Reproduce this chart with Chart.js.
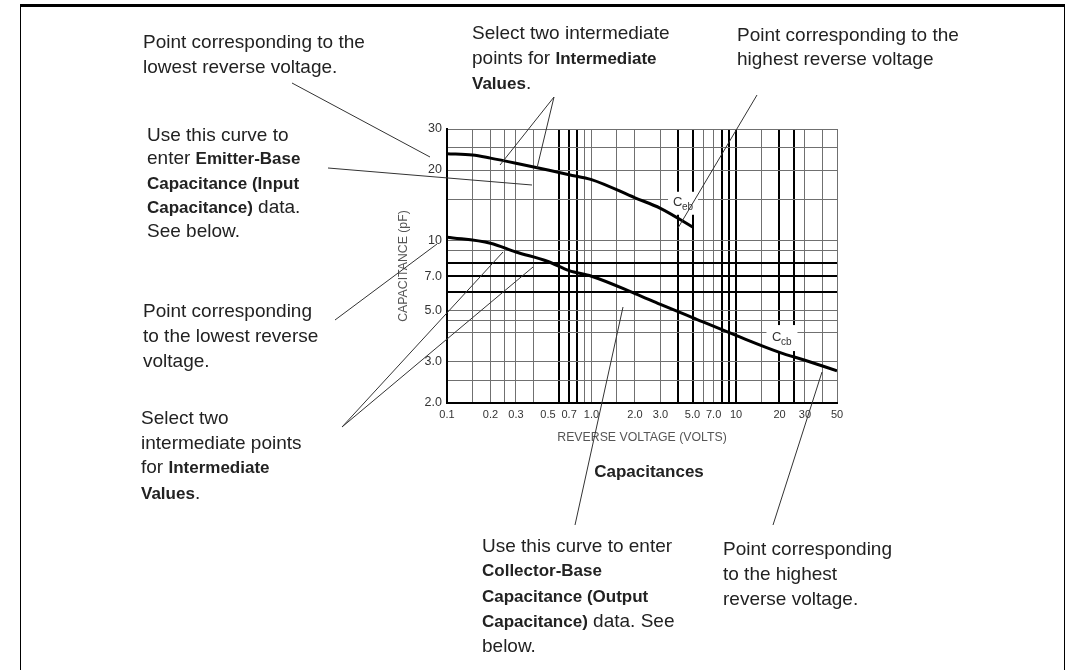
<!DOCTYPE html>
<html>
<head>
<meta charset="utf-8">
<script src="https://cdn.jsdelivr.net/npm/chart.js@4.4.1/dist/chart.umd.min.js"></script>
<style>
  html, body { margin: 0; padding: 0; background: #fff; }
  #wrap { position: relative; width: 1085px; height: 670px; overflow: hidden; }
  #frame { position: absolute; left: 20px; top: 4px; width: 1043px; height: 700px;
           border-top: 3px solid #000; border-left: 1px solid #000; border-right: 1px solid #000; }
  canvas { position: absolute; left: 0; top: 0; }
  .note { position: absolute; font-family: "Liberation Sans", Arial, sans-serif; font-size: 19px;
          color: #222; white-space: nowrap; }
  .note b { font-size: 17px; }
  #caption { position: absolute; left: 549px; width: 200px; top: 462px; text-align: center;
             font: bold 17px "Liberation Sans", Arial, sans-serif; color: #222; }
</style>
</head>
<body>
<div id="wrap">
  <div id="frame"></div>
  <canvas id="capChart" width="1085" height="670"></canvas>

  <div class="note" style="left:143px;top:29px;line-height:25px">Point corresponding to the<br>lowest reverse voltage.</div>
  <div class="note" style="left:472px;top:21px;line-height:24.5px">Select two intermediate<br>points for <b>Intermediate</b><br><b>Values</b>.</div>
  <div class="note" style="left:737px;top:23px;line-height:24px">Point corresponding to the<br>highest reverse voltage</div>
  <div class="note" style="left:147px;top:123px;line-height:23.3px">Use this curve to<br>enter <b>Emitter-Base</b><br><b>Capacitance (Input</b><br><b>Capacitance)</b> data.<br>See below.</div>
  <div class="note" style="left:143px;top:298px;line-height:25px">Point corresponding<br>to the lowest reverse<br>voltage.</div>
  <div class="note" style="left:141px;top:406px;line-height:24.7px">Select two<br>intermediate points<br>for <b>Intermediate</b><br><b>Values</b>.</div>
  <div class="note" style="left:482px;top:534px;line-height:24.3px">Use this curve to enter<br><b>Collector-Base</b><br><b>Capacitance (Output</b><br><b>Capacitance)</b> data. See<br>below.</div>
  <div class="note" style="left:723px;top:536px;line-height:25px">Point corresponding<br>to the highest<br>reverse voltage.</div>
  <div id="caption">Capacitances</div>
</div>

<script>
// ===== Data =====
const cebVoltage = [0.1, 0.15, 0.2, 0.3, 0.5, 0.7, 1.0, 2.0, 3.0, 5.0];
const cebValues  = [23.5, 23.2, 22.5, 21.4, 20.0, 19.1, 18.2, 15.2, 13.7, 11.4];

const ccbVoltage = [0.1, 0.2, 0.3, 0.5, 0.7, 1.0, 2.0, 3.0, 5.0, 10, 20, 30, 50];
const ccbValues  = [10.3, 9.7, 8.9, 8.1, 7.4, 7.0, 5.9, 5.3, 4.65, 3.9, 3.3, 3.05, 2.75];

// ===== Axes =====
const xLabelValues = [0.1, 0.2, 0.3, 0.5, 0.7, 1, 2, 3, 5, 7, 10, 20, 30, 50];
const xLabels      = ['0.1', '0.2', '0.3', '0.5', '0.7', '1.0', '2.0', '3.0', '5.0', '7.0', '10', '20', '30', '50'];
const xGridValues  = [0.1, 0.15, 0.2, 0.25, 0.3, 0.4, 0.6, 0.7, 0.8, 0.9, 1, 1.5, 2, 3, 4, 5, 6, 7, 8, 9, 10, 15, 20, 25, 30, 40, 50];
const xDarkValues  = [0.6, 0.7, 0.8, 4, 5, 8, 9, 10, 20, 25];

const yLabelValues = [2, 3, 5, 7, 10, 20, 30];
const yLabels      = ['2.0', '3.0', '5.0', '7.0', '10', '20', '30'];
const yGridValues  = [2, 2.5, 3, 4, 4.5, 5, 6, 7, 8, 9, 10, 15, 20, 25, 30];
const yDarkValues  = [6, 7, 8];

// curve labels (data position of the little white boxes)
const cebLabelAt = [4.3, 14.4];
const ccbLabelAt = [20.8, 3.8];

const sans = '"Liberation Sans", Arial, sans-serif';

function tickList(grid, labels) {
  return [...new Set([...grid, ...labels])].sort((a, b) => a - b).map(v => ({ value: v }));
}

// ===== Leader lines from the notes (page pixels) =====
const leaders = [
  [292, 83, 430, 157],
  [328, 168, 532, 185],
  [554, 97, 500, 165],
  [554, 97, 537, 168],
  [757, 95, 678, 228],
  [335, 320, 437, 244],
  [342, 427, 503, 252],
  [342, 427, 533, 267],
  [575, 525, 623, 307],
  [773, 525, 822, 372]
];

const curveLabels = {
  id: 'curveLabels',
  beforeDatasetsDraw(chart) {
    const { ctx, scales } = chart;
    const boxes = [
      { at: cebLabelAt, sub: 'eb', w: 30, h: 23 },
      { at: ccbLabelAt, sub: 'cb', w: 31, h: 26 }
    ];
    ctx.save();
    boxes.forEach(b => {
      const px = scales.x.getPixelForValue(b.at[0]);
      const py = scales.y.getPixelForValue(b.at[1]);
      ctx.fillStyle = '#fff';
      ctx.fillRect(px - b.w / 2, py - b.h / 2, b.w, b.h);
      ctx.fillStyle = '#333';
      ctx.textBaseline = 'middle';
      ctx.font = '13px ' + sans;
      ctx.fillText('C', px - 10, py - 1);
      ctx.font = '10px ' + sans;
      ctx.fillText(b.sub, px - 1, py + 4);
    });
    ctx.restore();
  }
};

const leaderLines = {
  id: 'leaderLines',
  afterDraw(chart) {
    const ctx = chart.ctx;
    ctx.save();
    ctx.strokeStyle = '#333';
    ctx.lineWidth = 1;
    leaders.forEach(l => {
      ctx.beginPath();
      ctx.moveTo(l[0], l[1]);
      ctx.lineTo(l[2], l[3]);
      ctx.stroke();
    });
    ctx.restore();
  }
};

new Chart(document.getElementById('capChart'), {
  type: 'scatter',
  data: {
    datasets: [
      {
        label: 'Ceb',
        data: cebVoltage.map((v, i) => ({ x: v, y: cebValues[i] })),
        showLine: true, borderColor: '#000', borderWidth: 3,
        pointRadius: 0, cubicInterpolationMode: 'monotone'
      },
      {
        label: 'Ccb',
        data: ccbVoltage.map((v, i) => ({ x: v, y: ccbValues[i] })),
        showLine: true, borderColor: '#000', borderWidth: 3,
        pointRadius: 0, cubicInterpolationMode: 'monotone'
      }
    ]
  },
  options: {
    responsive: false,
    animation: false,
    devicePixelRatio: 1,
    layout: { padding: { left: 396, top: 129, right: 248, bottom: 225 } },
    plugins: { legend: { display: false }, tooltip: { enabled: false } },
    scales: {
      x: {
        type: 'logarithmic', min: 0.1, max: 50,
        afterBuildTicks: s => { s.ticks = tickList(xGridValues, xLabelValues); },
        afterFit: s => { s.height = 42; },
        grid: {
          drawTicks: false,
          color: c => !c.tick || !xGridValues.includes(c.tick.value) ? 'rgba(0,0,0,0)'
                      : xDarkValues.includes(c.tick.value) ? '#000' : '#707070',
          lineWidth: c => c.tick && xDarkValues.includes(c.tick.value) ? 2 : 1
        },
        border: { color: '#000', width: 2 },
        ticks: {
          autoSkip: false, maxRotation: 0, padding: 5, color: '#333',
          font: { family: sans, size: 11 },
          callback: v => { const i = xLabelValues.indexOf(v); return i < 0 ? '' : xLabels[i]; }
        },
        title: { display: true, text: 'REVERSE VOLTAGE (VOLTS)', color: '#555',
                 font: { family: sans, size: 12.3 }, padding: 0 }
      },
      y: {
        type: 'logarithmic', min: 2, max: 30,
        afterBuildTicks: s => { s.ticks = tickList(yGridValues, yLabelValues); },
        afterFit: s => { s.width = 51; },
        grid: {
          drawTicks: false,
          color: c => !c.tick || !yGridValues.includes(c.tick.value) ? 'rgba(0,0,0,0)'
                      : yDarkValues.includes(c.tick.value) ? '#000' : '#707070',
          lineWidth: c => c.tick && yDarkValues.includes(c.tick.value) ? 2 : 1
        },
        border: { color: '#000', width: 2 },
        ticks: {
          autoSkip: false, padding: 5, color: '#333',
          font: { family: sans, size: 12.5 },
          callback: v => { const i = yLabelValues.indexOf(v); return i < 0 ? '' : yLabels[i]; }
        },
        title: { display: true, text: 'CAPACITANCE (pF)', color: '#555',
                 font: { family: sans, size: 12.3 }, padding: 0 }
      }
    }
  },
  plugins: [curveLabels, leaderLines]
});
</script>
</body>
</html>
